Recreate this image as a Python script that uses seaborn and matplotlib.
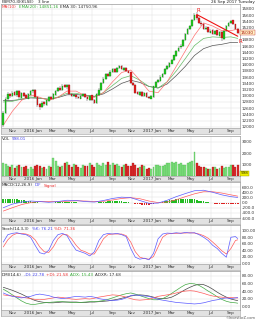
import numpy as np
import pandas as pd
import matplotlib
matplotlib.use('Agg')
import matplotlib.pyplot as plt
import matplotlib.dates as mdates
import seaborn as sns

sns.set_style('white')
plt.rcParams['font.family'] = ['DejaVu Sans']

# ---------------- data (weekly) ----------------
start_week = '2015-10-02'
n_weeks = 104
open_ = [12050,12450,12880,13060,12990, 13110,13010,13160,12940, 13090,13010,12910,13040, 13140,13190,12960,12720,12640, 12790,12710,12840,12960, 12890,13040,13140,13260, 13190,13340,13270,13360,13060, 12990,13030,12960,12910, 12990,13060,12960,12870, 13010,12860,12770,13040,13190, 13410,13540,13710,13640, 13770,13860,13770,13890,13960, 13840,13890,13810,13760, 13410,13360,13110,13040, 13130,12990,13090,12960,12910, 12960,13290,13460,13490, 13610,13690,13860,13940, 14040,14140,14290,14440,14560, 14610,14790,14990,15160, 15240,15440,15620,15510, 15360,15310,15140,15210,15040, 15110,14990,15110,14940, 15060,14840,15090,15240, 15340,15430,15310,15160]
close = [12450,12900,13050,12980,13100, 13020,13150,12950,13080, 13000,12920,13050,13150, 13180,12950,12700,12650,12780, 12720,12850,12950,12900, 13050,13150,13250,13200, 13330,13280,13350,13050,13000, 13020,12950,12920,13000, 13050,12950,12880,13000, 12850,12780,13050,13200,13420, 13550,13700,13650,13780, 13850,13780,13900,13950,13850, 13880,13800,13750,13420, 13350,13100,13050,13120, 13000,13080,12950,12920,13000, 13300,13450,13500,13620, 13700,13850,13950,14050, 14150,14300,14450,14550,14620, 14800,15000,15150,15250, 15450,15600,15500,15350, 15300,15150,15200,15050,15100, 15000,15100,14950,15050, 14850,15100,15250,15350, 15420,15300,15150,15030]
high = [12500,12950,13120,13100,13150, 13160,13200,13200,13120, 13120,13050,13090,13200, 13230,13220,12990,12760,12820, 12830,12880,12990,13000, 13080,13190,13290,13300, 13380,13370,13390,13380,13090, 13060,13060,12990,13040, 13090,13090,12990,13040, 13040,12890,13080,13240,13460, 13590,13740,13740,13820, 13890,13890,13930,13990,13990, 13920,13920,13840,13780, 13440,13380,13140,13160, 13150,13110,13110,12990,13030, 13330,13480,13540,13660, 13740,13880,13990,14090, 14190,14330,14490,14590,14680, 14840,15040,15200,15290, 15490,15660,15690,15540, 15400,15340,15240,15230,15140, 15140,15130,15130,15090, 15080,15130,15290,15390, 15460,15450,15330,15190]
low = [12000,12400,12830,12930,12950, 12980,12970,12900,12900, 12960,12880,12880,13000, 13100,12920,12650,12550,12600, 12680,12680,12810,12860, 12860,13000,13110,13160, 13160,13240,13230,13020,12960, 12950,12910,12880,12880, 12960,12920,12840,12840, 12820,12720,12740,13000,13160, 13380,13510,13620,13600, 13740,13740,13740,13860,13820, 13810,13770,13720,13380, 13300,13060,13010,13000, 12970,12960,12920,12880,12880, 12930,13260,13420,13460, 13580,13660,13820,13910, 14010,14110,14260,14410,14520, 14580,14760,14960,15130, 15210,15410,15460,15310, 15260,15110,15110,15020,15010, 14960,14960,14920,14900, 14780,14810,15060,15210, 15310,15270,15120,14990]
volume = [1100,1050,900,800,950, 700,850,950,800, 750,900,600,800, 650,900,1000,850,700, 800,650,900,750, 1600,1350,900,800, 850,1150,1200,950,800, 1050,950,800,700, 1000,900,850,1100, 950,800,1100,1000,900, 1150,1000,1200,950, 1100,1000,1050,900,800, 1000,1050,900,850, 1100,950,700,800, 1000,900,650,700,600, 800,1000,950,900, 900,1000,1100,1150, 1250,1150,1200,1050,1100, 1000,950,1100,1200, 1300,2100,1150,850, 750,800,700,650,600, 750,800,650,700, 900,700,750,800, 950,950,800,998]

# moving averages sampled every 4 weeks (week index 0,4,...,100,103)
ma10 = [12050,12500,12850,13030,12950,12850,12950,13150,13150,13000,12950,13100,13450,13750,13830,13500,13150,13100,13450,13950,14450,14950,15350,15250,15100,15100,15150]
ema20 = [12800,12820,12900,12960,12920,12880,12960,13080,13080,13020,12980,13100,13330,13560,13650,13500,13300,13250,13450,13800,14200,14620,14850,14900,14880,14900,14850]
ema30 = [12850,12850,12880,12930,12920,12890,12940,13030,13040,13010,12980,13060,13220,13400,13500,13430,13300,13250,13380,13650,13950,14300,14520,14620,14660,14720,14720]
# MACD sampled every 4 weeks
macd_dif = [-200,-60,20,60,40,10,40,90,80,40,20,80,160,210,190,80,-30,-20,90,230,350,460,480,400,300,230,200]
macd_sig = [-330,-200,-80,0,40,40,30,50,70,60,40,50,100,160,190,150,60,0,20,110,230,340,420,420,370,300,250]
macd_hist = [130,130,135,140, 140,130,120,110, 100,90,75,65, 60,40,20,5, 0,-10,-20,-30, -30,-20,0,5, 10,20,30,40, 40,30,20,15, 10,0,-10,-15, -20,-20,-25,-20, -20,0,15,25, 30,40,50,55, 60,60,55,50, 50,30,15,5, 0,-20,-40,-55, -70,-80,-85,-90, -90,-70,-50,-30, -20,0,30,50, 70,90,100,110, 120,120,120,120, 120,120,120,120, 120,100,80,70, 60,40,20,0, -20,-40,-50,-60, -70,-70,-70,-70, -70,-60,-55,-50]
# Stochastic and DMI sampled every 2 weeks (0,2,...,102,103)
stoch_k = [65,88,92,94,90,88,80,55,32,28,40,70,88,92,85,60,40,35,30,22,35,70,88,92,90,92,88,82,45,18,12,15,10,30,75,90,93,92,94,92,95,93,94,88,80,70,55,45,30,18,80,82,76]
stoch_d = [50,72,86,92,92,90,85,72,50,35,33,50,75,88,88,75,55,40,35,28,28,50,75,88,90,90,90,85,65,35,18,14,12,20,50,80,90,92,92,93,93,94,93,90,85,77,65,52,38,28,45,70,72]
minus_di = [35,30,26,24,22,24,26,30,32,30,28,24,22,20,22,24,26,25,24,26,24,20,18,16,15,16,18,22,28,30,28,27,26,22,18,16,14,12,10,9,8,7,6,7,9,12,15,17,20,22,20,22,22.8]
plus_di = [30,28,27,26,24,22,20,18,17,18,20,22,24,23,21,19,18,19,20,19,21,24,26,28,30,29,27,24,20,17,16,17,18,22,26,28,30,32,35,38,40,41,40,37,34,30,27,25,24,22,23,22,21.6]
adx = [45,38,30,22,14,8,5,5,7,9,10,11,12,12,11,10,10,10,11,12,12,13,15,18,22,26,30,33,35,32,28,24,20,17,17,20,26,34,42,50,57,60,59,55,48,40,33,25,18,13,10,9,8]
adxr = [50,46,42,37,32,26,20,15,12,10,9,9,10,11,11,11,11,10,10,11,11,12,13,14,16,18,21,24,27,29,30,29,27,24,21,20,21,24,30,37,44,50,55,58,57,52,45,37,30,24,19,16,15]

trend_dates = ['2017-05-19', '2017-09-22']
trend_vals = [15620, 14920]

month_ticks = ['2015-11-01','2016-01-01','2016-03-01','2016-05-01','2016-07-01','2016-09-01',
               '2016-11-01','2017-01-01','2017-03-01','2017-05-01','2017-07-01','2017-09-01']
month_labels = ['Nov','2016 Jan','Mar','May','Jul','Sep','Nov','2017 Jan','Mar','May','Jul','Sep']
price_ticks = list(range(12000, 15801, 200))
vol_ticks = [1000, 2000, 3000]
macd_ticks = [-600, -400, -200, 0, 200, 400, 600]
stoch_ticks = [0, 20, 40, 60, 80, 100]
dmi_ticks = [0, 20, 40, 60, 80]

# ---------------- helpers ----------------
W, H = 256, 320
fig = plt.figure(figsize=(W/100, H/100), dpi=100)
fig.patch.set_facecolor('white')

dates = pd.date_range(start_week, periods=n_weeks, freq='W-FRI')
x = mdates.date2num(dates.to_pydatetime())
idx4 = np.r_[np.arange(0, 101, 4), 103]
idx2 = np.r_[np.arange(0, 103, 2), 103]
xlim = (mdates.date2num(pd.Timestamp('2015-09-25')), mdates.date2num(pd.Timestamp('2017-09-29')))
mt = mdates.date2num(pd.to_datetime(month_ticks).to_pydatetime())

open_a, close_a, high_a, low_a = map(np.array, (open_, close, high, low))
up = close_a >= open_a

GRID = '#dcdcdc'
FS = 3.0

def rect(top, bottom, left=1, right=240):
    return [left / W, 1 - bottom / H, (right - left) / W, (bottom - top) / H]

def panel(top, bottom, ylim, ticks, fmt):
    ax = fig.add_axes(rect(top, bottom))
    ax.set_xlim(*xlim)
    ax.set_ylim(*ylim)
    ax.set_xticks([])
    ax.yaxis.tick_right()
    ax.set_yticks(ticks)
    ax.set_yticklabels([fmt(t) for t in ticks], fontsize=FS, color='#333333')
    ax.tick_params(axis='y', length=0, pad=1.5)
    for t in ticks:
        ax.axhline(t, color=GRID, lw=0.3, zorder=0)
    for m in mt:
        ax.axvline(m, color=GRID, lw=0.3, zorder=0)
    for s in ax.spines.values():
        s.set_color('#9a9a9a')
        s.set_linewidth(0.5)
    ax.set_xlabel('')
    ax.set_ylabel('')
    return ax

def band(top, bottom):
    ax = fig.add_axes(rect(top, bottom))
    ax.set_facecolor('#e2e2e2')
    ax.set_xlim(*xlim)
    ax.set_ylim(0, 1)
    ax.set_xticks([])
    ax.set_yticks([])
    for s in ax.spines.values():
        s.set_color('#9a9a9a')
        s.set_linewidth(0.4)
    for m, lab in zip(mt, month_labels):
        ax.text(m, 0.45, lab, fontsize=FS, color='#333333', ha='center', va='center')
    return ax

renderer = fig.canvas.get_renderer()

def ctext(x_px, y_px, pieces, size=FS, gap=2.0):
    xx = x_px
    for s, c in pieces:
        t = fig.text(xx / W, 1 - y_px / H, s, color=c, fontsize=size, ha='left', va='center')
        bb = t.get_window_extent(renderer)
        xx += bb.width + gap

def line(ax, idx, vals, color, lw=0.5):
    sns.lineplot(x=x[idx], y=np.asarray(vals, dtype=float), ax=ax, color=color, lw=lw,
                 legend=False, errorbar=None, estimator=None, sort=False)

GREEN = '#22c422'
RED = '#e02020'
BLUE = '#5a5aff'
LRED = '#ff5a5a'

# ---------------- price panel ----------------
axp = panel(4, 128, (11960, 15960), price_ticks, lambda v: f'{v}')
axp.vlines(x, low_a, high_a, color='#555555', lw=0.35, zorder=2)
body_lo = np.minimum(open_a, close_a)
body_h = np.maximum(np.abs(close_a - open_a), 15)
axp.bar(x, body_h, bottom=body_lo, width=5, color=np.where(up, GREEN, RED),
        edgecolor=np.where(up, '#118811', '#991111'), linewidth=0.2, zorder=3)
line(axp, idx4, ema30, '#555555')
line(axp, idx4, ema20, '#66bb66')
line(axp, idx4, ma10, '#ff7070')
td = mdates.date2num(pd.to_datetime(trend_dates).to_pydatetime())
axp.plot(td, trend_vals, color='#ee1111', lw=0.8, zorder=5)
axp.text(td[0], trend_vals[0] + 60, 'R', color='#ee1111', fontsize=4, ha='left', va='bottom', zorder=6)
axp.text(td[1] + 3, trend_vals[1] - 80, 'R', color='#ee1111', fontsize=4, ha='left', va='top', zorder=6)
axp.text(1.004, close_a[-1], f'{close_a[-1]:.0f}', transform=axp.get_yaxis_transform(),
         fontsize=FS, color='#aa0000', ha='left', va='center', zorder=7,
         bbox=dict(boxstyle='square,pad=0.15', fc='#fff6c8', ec='#cc3333', lw=0.3))
band(128, 134)

# ---------------- volume panel ----------------
axv = panel(136, 176, (0, 3500), vol_ticks, lambda v: f'{v}')
axv.bar(x, volume, width=6, color=np.where(up, '#7ee07e', '#dd2a2a'),
        edgecolor=np.where(up, '#44aa44', '#991111'), linewidth=0.2, zorder=3)
axv.text(1.004, 0.02, f'{volume[-1]:.0f}', transform=axv.transAxes, fontsize=FS,
         color='#333300', ha='left', va='bottom', zorder=7,
         bbox=dict(boxstyle='square,pad=0.15', fc='#eeee00', ec='#999900', lw=0.3))
band(176, 181)

# ---------------- MACD panel ----------------
axm = panel(182, 218, (-600, 800), macd_ticks, lambda v: f'{v:.1f}')
axm.bar(x, macd_hist, width=5, color=np.where(np.array(macd_hist) >= 0, '#22bb22', '#dd2222'),
        linewidth=0, zorder=2)
line(axm, idx4, macd_sig, LRED)
line(axm, idx4, macd_dif, BLUE)
band(218, 224)

# ---------------- Stochastic panel ----------------
axs = panel(225, 264, (-3, 118), stoch_ticks, lambda v: f'{v:.2f}')
line(axs, idx2, stoch_d, LRED)
line(axs, idx2, stoch_k, BLUE)
band(264, 270)

# ---------------- DMI panel ----------------
axd = panel(271, 310, (-10, 93), dmi_ticks, lambda v: f'{v:.2f}')
line(axd, idx2, adxr, '#444444')
line(axd, idx2, adx, '#44aa44')
line(axd, idx2, plus_di, LRED)
line(axd, idx2, minus_di, BLUE)
band(310, 316)

# ---------------- texts ----------------
ctext(1.5, 1.8, [('FBM70-I0(KLSE)', '#222222'), ('3 line', '#222222')], gap=4)
fig.text(255 / W, 1 - 1.8 / H, '26 Sep 2017 Tuesday', fontsize=FS, color='#222222', ha='right', va='center')
ctext(2, 7.5, [('MA(10)', '#ee3333'), ('EMA(20): 14851.16', '#33aa33'), ('EMA 30: 14750.96', '#333333')])
ctext(2, 139.5, [('VOL', '#222222'), ('998.01', '#4444ee')])
ctext(2, 185.5, [('MACD(12,26,9)', '#222222'), ('DIF', '#4444ee'), ('Signal', '#ee3333')])
ctext(2, 228.5, [('Stoch(14,3,3)', '#222222'), ('%K: 76.21', '#4444ee'), ('%D: 71.36', '#ee3333')])
ctext(2, 274.5, [('DMI(14,6)', '#222222'), ('-DI: 22.78', '#4444ee'), ('+DI: 21.58', '#ee3333'),
                 ('ADX: 15.43', '#33aa33'), ('ADXR: 17.68', '#333333')])
fig.text(255 / W, 1 - 318 / H, '\u00a9InvestorZ.com', fontsize=2.6, color='#555555', ha='right', va='center')

fig.savefig('out.png', dpi=100, facecolor='white')
